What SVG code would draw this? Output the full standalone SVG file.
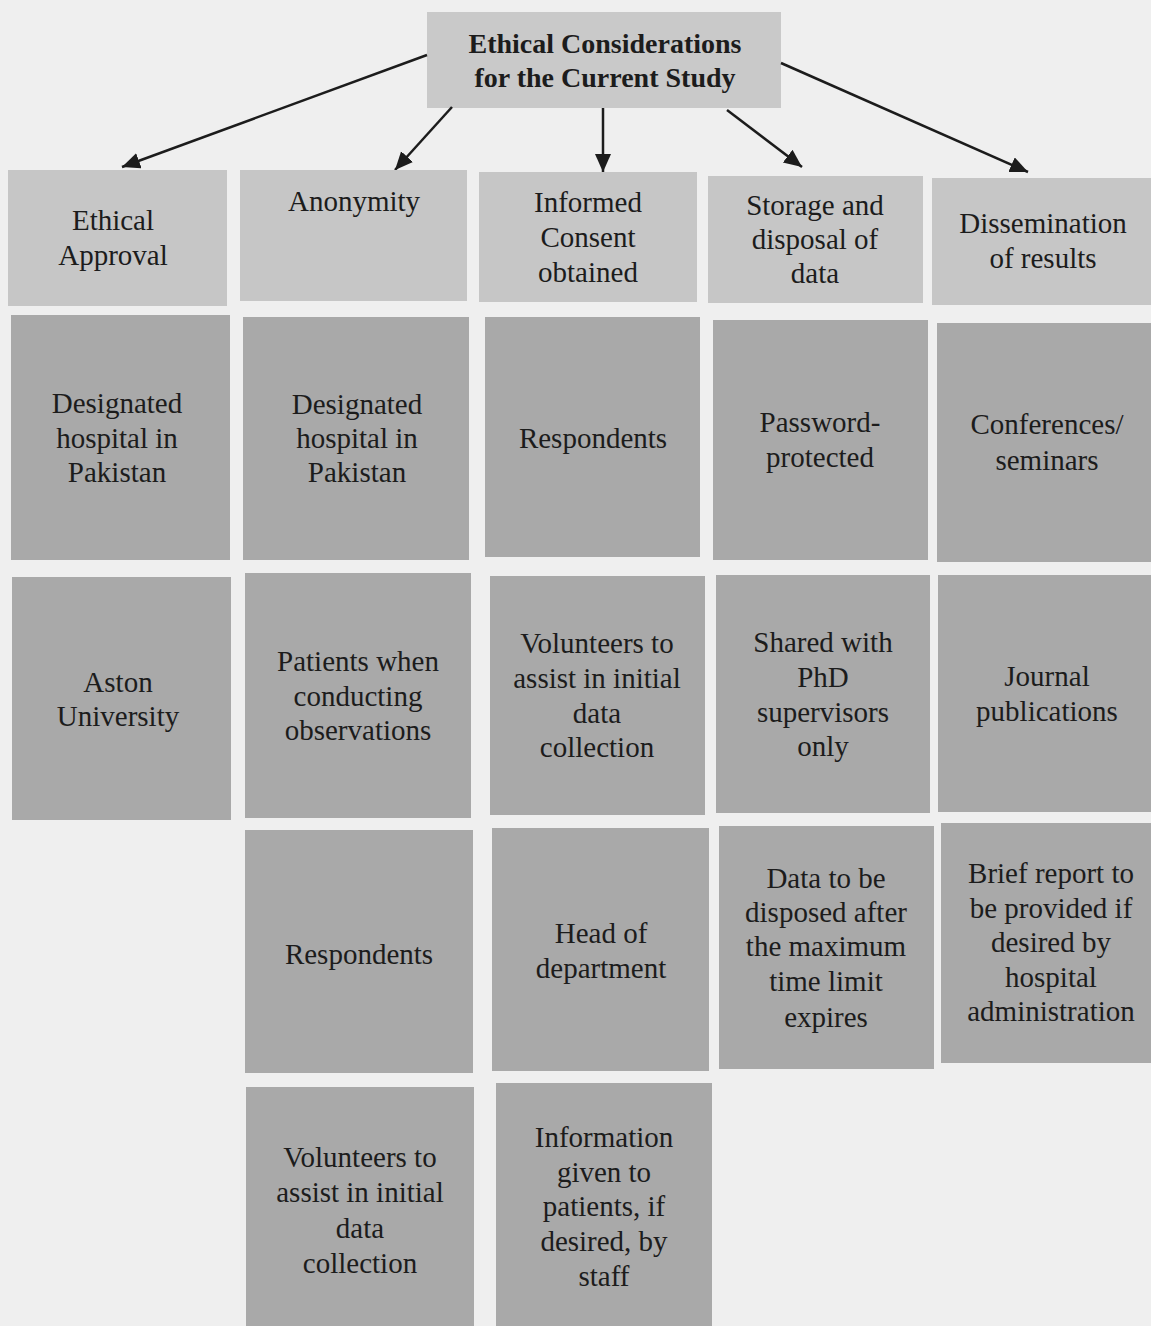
<svg xmlns="http://www.w3.org/2000/svg" width="1151" height="1326" viewBox="0 0 1151 1326">
<defs>
<style>
.bg{fill:#efefef}
.top{fill:#c9c9c9}
.hd{fill:#c6c6c6}
.bx{fill:#a9a9a9}
text{font-family:"Liberation Serif","Times New Roman",serif;font-size:29px;fill:#1c1c1c;text-anchor:middle}
.title{font-weight:bold;font-size:28px}
.conn line{stroke:#1c1c1c;stroke-width:2.5;fill:none}
</style>
<marker id="ah" markerUnits="userSpaceOnUse" markerWidth="20" markerHeight="18" refX="18" refY="8" orient="auto">
<path d="M0,0 L18,8 L0,16 Z" fill="#1c1c1c"/>
</marker>
</defs>
<rect class="bg" x="0" y="0" width="1151" height="1326"/>

<g id="root">
<rect class="top" x="427" y="12" width="354" height="96"/>
<text class="title" x="605" y="53">Ethical Considerations</text>
<text class="title" x="605" y="87">for the Current Study</text>
</g>

<g class="conn" id="connectors">
<line x1="427" y1="55" x2="122" y2="167" marker-end="url(#ah)"/>
<line x1="452" y1="107" x2="395" y2="170" marker-end="url(#ah)"/>
<line x1="603" y1="108" x2="603" y2="172" marker-end="url(#ah)"/>
<line x1="727" y1="110" x2="802" y2="167" marker-end="url(#ah)"/>
<line x1="781" y1="63" x2="1028" y2="172" marker-end="url(#ah)"/>
</g>

<g id="h1"><rect class="hd" x="8" y="170" width="219" height="136"/>
<text x="113" y="230">Ethical</text><text x="113" y="265">Approval</text></g>
<g id="h2"><rect class="hd" x="240" y="170" width="227" height="131"/>
<text x="354" y="211">Anonymity</text></g>
<g id="h3"><rect class="hd" x="479" y="172" width="218" height="130"/>
<text x="588" y="212">Informed</text><text x="588" y="247">Consent</text><text x="588" y="282">obtained</text></g>
<g id="h4"><rect class="hd" x="708" y="176" width="215" height="127"/>
<text x="815" y="215">Storage and</text><text x="815" y="249">disposal of</text><text x="815" y="283">data</text></g>
<g id="h5"><rect class="hd" x="932" y="178" width="219" height="127"/>
<text x="1043" y="233">Dissemination</text><text x="1043" y="268">of results</text></g>

<g id="r2c1"><rect class="bx" x="11" y="315" width="219" height="245"/>
<text x="117" y="413">Designated</text><text x="117" y="448">hospital in</text><text x="117" y="482">Pakistan</text></g>
<g id="r2c2"><rect class="bx" x="243" y="317" width="226" height="243"/>
<text x="357" y="414">Designated</text><text x="357" y="448">hospital in</text><text x="357" y="482">Pakistan</text></g>
<g id="r2c3"><rect class="bx" x="485" y="317" width="215" height="240"/>
<text x="593" y="448">Respondents</text></g>
<g id="r2c4"><rect class="bx" x="713" y="320" width="215" height="240"/>
<text x="820" y="432">Password-</text><text x="820" y="467">protected</text></g>
<g id="r2c5"><rect class="bx" x="937" y="323" width="214" height="239"/>
<text x="1047" y="434">Conferences/</text><text x="1047" y="470">seminars</text></g>

<g id="r3c1"><rect class="bx" x="12" y="577" width="219" height="243"/>
<text x="118" y="692">Aston</text><text x="118" y="726">University</text></g>
<g id="r3c2"><rect class="bx" x="245" y="573" width="226" height="245"/>
<text x="358" y="671">Patients when</text><text x="358" y="706">conducting</text><text x="358" y="740">observations</text></g>
<g id="r3c3"><rect class="bx" x="490" y="576" width="215" height="239"/>
<text x="597" y="653">Volunteers to</text><text x="597" y="688">assist in initial</text><text x="597" y="723">data</text><text x="597" y="757">collection</text></g>
<g id="r3c4"><rect class="bx" x="716" y="575" width="214" height="238"/>
<text x="823" y="652">Shared with</text><text x="823" y="687">PhD</text><text x="823" y="722">supervisors</text><text x="823" y="756">only</text></g>
<g id="r3c5"><rect class="bx" x="938" y="575" width="213" height="237"/>
<text x="1047" y="686">Journal</text><text x="1047" y="721">publications</text></g>

<g id="r4c2"><rect class="bx" x="245" y="830" width="228" height="243"/>
<text x="359" y="964">Respondents</text></g>
<g id="r4c3"><rect class="bx" x="492" y="828" width="217" height="243"/>
<text x="601" y="943">Head of</text><text x="601" y="978">department</text></g>
<g id="r4c4"><rect class="bx" x="719" y="826" width="215" height="243"/>
<text x="826" y="888">Data to be</text><text x="826" y="922">disposed after</text><text x="826" y="956">the maximum</text><text x="826" y="991">time limit</text><text x="826" y="1027">expires</text></g>
<g id="r4c5"><rect class="bx" x="941" y="823" width="210" height="240"/>
<text x="1051" y="883">Brief report to</text><text x="1051" y="918">be provided if</text><text x="1051" y="952">desired by</text><text x="1051" y="987">hospital</text><text x="1051" y="1021">administration</text></g>

<g id="r5c2"><rect class="bx" x="246" y="1087" width="228" height="239"/>
<text x="360" y="1167">Volunteers to</text><text x="360" y="1202">assist in initial</text><text x="360" y="1238">data</text><text x="360" y="1273">collection</text></g>
<g id="r5c3"><rect class="bx" x="496" y="1083" width="216" height="243"/>
<text x="604" y="1147">Information</text><text x="604" y="1182">given to</text><text x="604" y="1216">patients, if</text><text x="604" y="1251">desired, by</text><text x="604" y="1286">staff</text></g>
</svg>
